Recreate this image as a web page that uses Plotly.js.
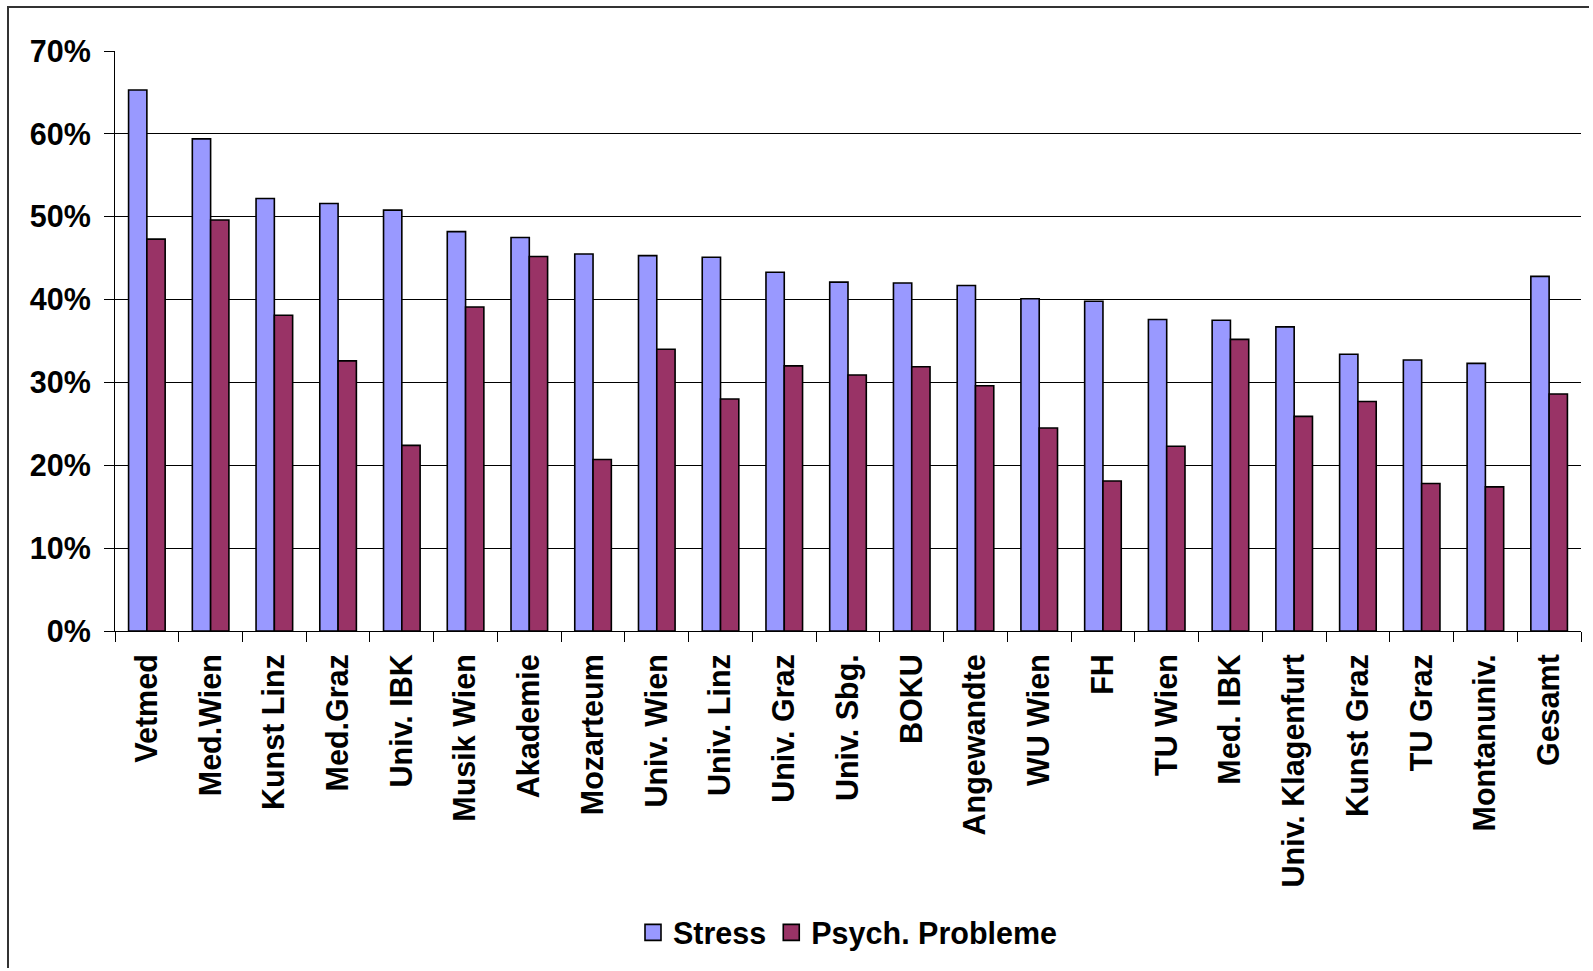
<!DOCTYPE html>
<html>
<head>
<meta charset="utf-8">
<script src="https://cdn.plot.ly/plotly-3.0.1.min.js"></script>
<style>
  html, body { margin: 0; padding: 0; background: #fff; overflow: hidden; }
  #chart { position: absolute; left: 0; top: 0; width: 1593px; height: 971px; }
  #frame { position: absolute; left: 7px; top: 6px; width: 1580px; height: 960px;
           border-left: 2px solid #333; border-top: 2px solid #333; pointer-events: none; }
</style>
</head>
<body>
<div id="chart"></div>
<div id="frame"></div>
<script>
const categories = ["Vetmed", "Med.Wien", "Kunst Linz", "Med.Graz", "Univ. IBK", "Musik Wien",
  "Akademie", "Mozarteum", "Univ. Wien", "Univ. Linz", "Univ. Graz", "Univ. Sbg.", "BOKU",
  "Angewandte", "WU Wien", "FH", "TU Wien", "Med. IBK", "Univ. Klagenfurt", "Kunst Graz",
  "TU Graz", "Montanuniv.", "Gesamt"];
const stress = [65.3, 59.4, 52.2, 51.6, 50.8, 48.2, 47.5, 45.5, 45.3, 45.1, 43.3, 42.1, 42.0,
  41.7, 40.1, 39.8, 37.6, 37.5, 36.7, 33.4, 32.7, 32.3, 42.8];
const psych = [47.3, 49.6, 38.1, 32.6, 22.4, 39.1, 45.2, 20.7, 34.0, 28.0, 32.0, 30.9, 31.9,
  29.6, 24.5, 18.1, 22.3, 35.2, 25.9, 27.7, 17.8, 17.4, 28.6];
const seriesNames = ["Stress", "Psych. Probleme"];
const seriesColors = ["#9999FF", "#993366"];
const yTicks = [0, 10, 20, 30, 40, 50, 60, 70];

const fontFamily = '"Liberation Sans", Arial, sans-serif';
const boldFont = { family: fontFamily, size: 30.5, color: '#000', weight: 'bold' };

const traces = [
  { type: 'bar', name: seriesNames[0], x: categories, y: stress, showlegend: false,
    marker: { color: seriesColors[0], line: { color: '#000', width: 1.6 } } },
  { type: 'bar', name: seriesNames[1], x: categories, y: psych, showlegend: false,
    marker: { color: seriesColors[1], line: { color: '#000', width: 1.6 } } },
  // legend entries with larger square symbols
  { type: 'scatter', mode: 'markers', name: seriesNames[0], x: [null], y: [null],
    marker: { symbol: 'square', size: 20, color: seriesColors[0], line: { color: '#000', width: 1.6 } } },
  { type: 'scatter', mode: 'markers', name: seriesNames[1], x: [null], y: [null],
    marker: { symbol: 'square', size: 20, color: seriesColors[1], line: { color: '#000', width: 1.6 } } }
];

const layout = {
  width: 1593, height: 971,
  paper_bgcolor: '#fff', plot_bgcolor: '#fff',
  margin: { l: 115, r: 12, t: 51, b: 330 },
  barmode: 'group', bargap: 0.426, bargroupgap: 0,
  font: boldFont,
  showlegend: true,
  legend: { orientation: 'h', x: 0.5, xanchor: 'center', y: -0.52, yanchor: 'middle',
    font: boldFont, itemwidth: 30, tracegroupgap: 0, bgcolor: 'rgba(0,0,0,0)' },
  xaxis: {
    type: 'category', tickangle: -90, showgrid: false,
    showline: true, linecolor: '#000', linewidth: 1,
    ticks: 'outside', ticklen: 10, tickcolor: '#000', tickson: 'boundaries',
    ticklabelstandoff: 10,
    tickfont: boldFont, automargin: false
  },
  yaxis: {
    range: [0, 70], tickvals: yTicks, ticktext: yTicks.map(v => v + '%'),
    showgrid: true, gridcolor: '#000', gridwidth: 1,
    showline: true, linecolor: '#000', linewidth: 1,
    ticks: 'outside', ticklen: 10, tickcolor: '#000',
    ticklabelstandoff: 7,
    zeroline: false, tickfont: boldFont, automargin: false
  }
};

Plotly.newPlot('chart', traces, layout, { displayModeBar: false, staticPlot: true });
</script>
</body>
</html>
